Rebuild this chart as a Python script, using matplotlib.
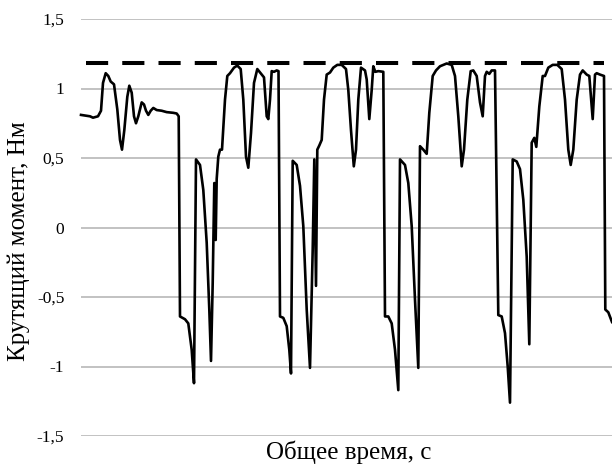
import matplotlib
matplotlib.use("Agg")
import matplotlib.pyplot as plt

# Torque trace (time in arbitrary units, torque in N*m).
time_start = [0, 9, 12, 17, 20, 22, 24.7, 27.3, 29.7, 33, 36.3, 39, 41, 43.3, 46.3, 48.3,
              50.7, 53, 55, 57.3, 60.7, 63, 65, 67.3, 69.7, 72.3, 75.7, 80.7, 85.7, 92.3,
              95.7, 97.7]
torque_start = [0.81, 0.80, 0.79, 0.80, 0.84, 1.04, 1.11, 1.09, 1.05, 1.03, 0.85, 0.63, 0.56,
                0.70, 0.94, 1.02, 0.97, 0.80, 0.75, 0.80, 0.90, 0.885, 0.84, 0.81, 0.84, 0.86,
                0.845, 0.84, 0.83, 0.825, 0.82, 0.80]

time_c1 = [99, 104, 107.3, 110.7, 113, 115, 119, 122.3, 125.7, 128.3, 130, 131.7, 133.3, 134.7,
           135.7, 137.3, 139, 141, 144, 146.3, 149, 153, 156.3, 159.7, 162.3, 165, 167.3, 170,
           173, 176.3, 179.7, 183, 185.7, 187.3, 189, 190.7, 193, 195.7, 197.5]
torque_c1 = [-0.64, -0.66, -0.69, -0.88, -1.12, 0.49, 0.45, 0.27, -0.11, -0.59, -0.96, -0.40,
             0.32, -0.09, 0.35, 0.51, 0.56, 0.56, 0.92, 1.09, 1.11, 1.15, 1.165, 1.14, 0.92,
             0.51, 0.43, 0.68, 1.04, 1.14, 1.11, 1.08, 0.80, 0.78, 0.92, 1.125, 1.12, 1.13, 1.125]

time_c2 = [199, 202.3, 205.7, 208.3, 210, 211.7, 215.7, 219, 222.3, 225.7, 229, 231.7, 233.3,
           235, 236.3, 238.3, 240.7, 243, 245.7, 249, 252.3, 256.3, 260.7, 265, 267.3, 270,
           272.8, 275, 277.3, 280, 284, 285.7, 288.3, 290.7, 292.3, 294.3, 297.3, 302.3]
torque_c2 = [-0.64, -0.65, -0.71, -0.88, -1.05, 0.48, 0.45, 0.30, 0.01, -0.59, -1.01, -0.16,
             0.49, -0.42, 0.56, 0.59, 0.63, 0.92, 1.10, 1.115, 1.15, 1.17, 1.17, 1.14, 0.99,
             0.70, 0.44, 0.56, 0.92, 1.15, 1.13, 1.065, 0.78, 0.99, 1.16, 1.12, 1.125, 1.12]

time_c3 = [304, 307.3, 310.7, 314, 317.3, 319, 324, 327.3, 330.7, 334, 337.3, 339, 342.3, 345.7,
           348.3, 351.7, 355, 359, 365.7, 370.7, 374, 377.3, 380.7, 383, 386.3, 389.7, 392.3,
           395.7, 399, 401.7, 404, 405.7, 408.3, 410.7, 414]
torque_c3 = [-0.64, -0.64, -0.69, -0.88, -1.17, 0.49, 0.45, 0.32, 0.01, -0.52, -1.01, 0.585,
             0.56, 0.53, 0.825, 1.09, 1.13, 1.16, 1.18, 1.17, 1.09, 0.80, 0.44, 0.56, 0.92,
             1.125, 1.13, 1.09, 0.90, 0.80, 1.09, 1.12, 1.105, 1.13, 1.13]

time_c4 = [417.3, 420.7, 424, 426.7, 429, 431.7, 435.7, 439, 442.3, 445.7, 448.3, 450.7, 453.3,
           455.3, 458.3, 461.7, 464, 467.3, 471.7, 476.3, 480.7, 484, 487.3, 489.7, 492.3,
           495.7, 499, 501.7, 505.7, 508.3, 511.7, 514, 515.7, 519, 523, 524.3, 527.3, 531]
torque_c4 = [-0.63, -0.64, -0.76, -1.00, -1.26, 0.49, 0.475, 0.42, 0.20, -0.21, -0.84, 0.61,
             0.645, 0.58, 0.87, 1.09, 1.09, 1.15, 1.17, 1.17, 1.14, 0.92, 0.56, 0.45, 0.56,
             0.92, 1.10, 1.13, 1.10, 1.09, 0.78, 1.10, 1.11, 1.10, 1.09, -0.59, -0.61, -0.68]

# Dashed limit line
limit_torque = 1.18
limit_time = (5, 523)

y_ticks = [-1.5, -1.0, -0.5, 0.0, 0.5, 1.0, 1.5]
y_tick_labels = ["-1,5", "-1", "-0,5", "0", "0,5", "1", "1,5"]

time = time_start + time_c1 + time_c2 + time_c3 + time_c4
torque = torque_start + torque_c1 + torque_c2 + torque_c3 + torque_c4

plt.rcParams["font.family"] = ["Liberation Serif", "DejaVu Serif"]

fig = plt.figure(figsize=(6.12, 4.66), dpi=100)
ax = fig.add_axes([81 / 612, 1 - 436 / 466, 531 / 612, 417 / 466])

ax.set_yticks(y_ticks)
ax.set_yticklabels(y_tick_labels, fontsize=12.5)
ax.set_ylim(-1.5, 1.5)
ax.set_xlim(0, 531)
ax.set_xticks([])
ax.tick_params(axis="y", length=0, pad=12)
ax.yaxis.grid(True, color="#bdbdbd", linewidth=1.3)
ax.set_axisbelow(True)
for spine in ax.spines.values():
    spine.set_visible(False)

ax.plot(time, torque, color="black", linewidth=1.9, solid_joinstyle="round", clip_on=False)
ax.hlines(limit_torque, limit_time[0], limit_time[1], colors="black",
          linewidth=2.9, linestyles=(0, (5.5, 3.5)))

fig.text(19 / 612, 1 - 241 / 466, "Крутящий момент, Нм", rotation=90,
         ha="center", va="center", fontsize=18)
fig.text(349 / 612, 1 - 452 / 466, "Общее время, с", ha="center", va="center", fontsize=18)

fig.savefig("out.png", dpi=100)
